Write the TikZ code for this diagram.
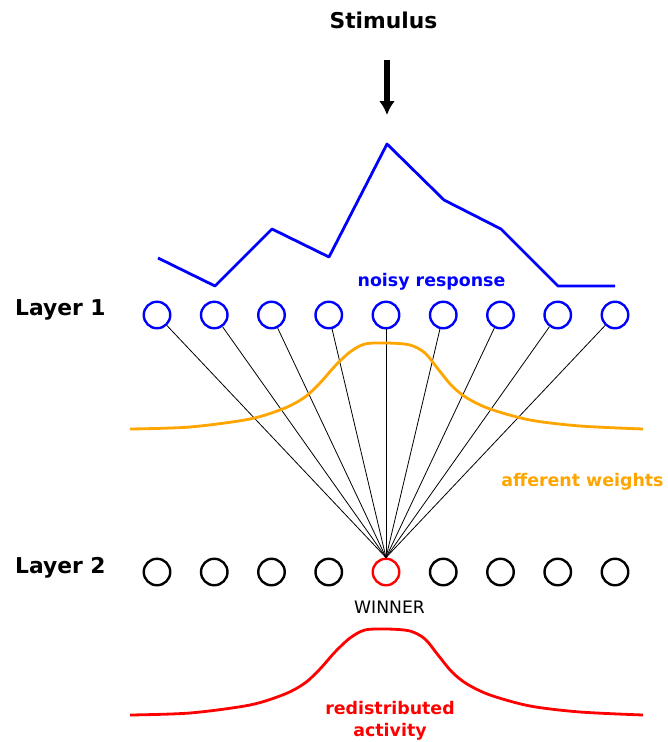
\documentclass[tikz,border=0pt]{standalone}
\usepackage{fontspec}
\setmainfont{DejaVu Sans}
\usetikzlibrary{arrows.meta}
\definecolor{respblue}{RGB}{0,0,255}
\definecolor{weightorange}{RGB}{255,165,0}
\definecolor{winred}{RGB}{255,0,0}

\begin{document}
\begin{tikzpicture}[x=1pt,y=-1pt,
  unit/.style={draw,circle,line width=2.4pt,minimum size=26.5pt,inner sep=0pt},
  bigtext/.style={font=\fontsize{21.8}{26}\selectfont\bfseries,inner sep=0pt},
  smalltext/.style={font=\fontsize{17.4}{22}\selectfont\bfseries,inner sep=0pt},
  curve/.style={line width=2.8pt,line join=round}]
\useasboundingbox (0,0) rectangle (667,742);

% stimulus and the input arrow
\node[bigtext,anchor=base] (stim) at (383.5,28) {Stimulus};
\coordinate (in) at (387,60);
\coordinate (peak) at (387,115);
\draw[line width=5.5pt,-{Latex[length=14pt,width=16pt]}] (in) -- (peak);

% noisy response of layer 1
\draw[curve,respblue] plot coordinates {(158,258) (215,286) (272,229) (329,257) (387,144) (444,200) (501,229) (558,286) (615,286)};
\node[smalltext,respblue,anchor=base] (noisy) at (431.5,286) {noisy response};

% the two layers
\node[bigtext,anchor=base west] (lay1) at (15,315) {Layer 1};
\node[bigtext,anchor=base west] (lay2) at (15,573) {Layer 2};
\foreach \i in {1,...,9}
  \node[unit,respblue] (a\i) at ({157+57.25*(\i-1)},315) {};
\foreach \i in {1,2,3,4,6,7,8,9}
  \node[unit] (b\i) at ({157+57.25*(\i-1)},572) {};
\node[unit,winred] (b5) at (386,572) {};
\node[font=\fontsize{17.2}{20}\selectfont,inner sep=0pt,anchor=base] (win) at (389.5,613) {WINNER};

% afferent connections onto the winner
\foreach \i in {1,...,9}
  \draw[line width=0.8pt] (a\i) -- (b5.north);

% afferent weight profile
\draw[curve,weightorange,shift={(0,429)}] plot[smooth,tension=0.5] coordinates {(130,0) (190,-2) (250,-10) (285,-21) (305,-32) (320,-46) (335,-63) (350,-77) (365,-85) (387,-86) (410,-84) (425,-76) (438,-60) (452,-43) (467,-31) (490,-20) (530,-9) (580,-3) (643,0)};
\node[smalltext,weightorange,anchor=base] (aff) at (582.5,486) {afferent weights};

% activity after redistribution
\draw[curve,winred,shift={(0,715)}] plot[smooth,tension=0.5] coordinates {(130,0) (190,-2) (250,-10) (285,-21) (305,-32) (320,-46) (335,-63) (350,-77) (365,-85) (387,-86) (410,-84) (425,-76) (438,-60) (452,-43) (467,-31) (490,-20) (530,-9) (580,-3) (643,0)};
\node[smalltext,winred,align=center,anchor=north] (redis) at (390,701) {redistributed\\activity};
\end{tikzpicture}
\end{document}
